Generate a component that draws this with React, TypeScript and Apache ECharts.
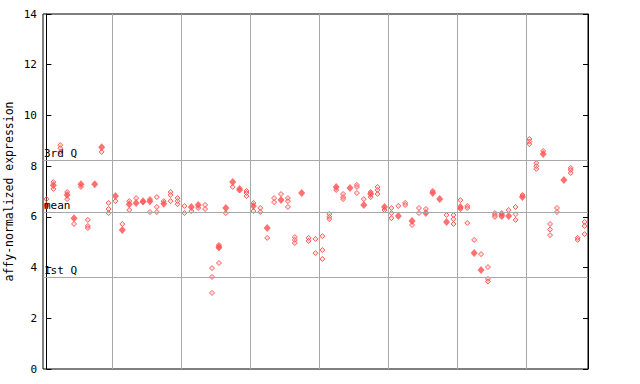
import React, { useEffect, useRef } from "react";
import * as echarts from "echarts";

// One entry per sample column (79 columns). filled: main (solid) point; hatched: hollow points.
const filledValues: (number | null)[] = [
  6.45, 7.25, null, 6.86, 5.95, 7.29, null, 7.29, 8.75, null,
  6.82, 5.48, 6.5, 6.55, 6.62, 6.62, null, 6.52, null, null,
  null, 6.39, 6.47, null, null, 4.81, 6.35, 7.37, 7.1, null,
  6.43, null, 5.56, null, 6.66, null, null, 6.94, null, null,
  null, null, 7.18, null, 7.14, null, 6.47, 6.9, null, 6.39,
  null, 6.03, null, 5.84, null, 6.15, 6.94, 6.7, 5.8, null,
  6.39, null, 4.57, 3.9, null, null, 6.07, 6.03, null, 6.78,
  null, null, 8.48, null, null, 7.45, null, null, null,
];

const hatchedValues: number[][] = [
  [6.7], [7.37, 7.1], [8.83, 8.71, 8.56], [6.98, 6.7], [5.72], [7.18], [5.88, 5.64, 5.56], [], [8.56], [6.55, 6.31, 6.15],
  [6.62], [5.72], [6.62, 6.27], [6.74], [6.58], [6.7, 6.19], [6.78, 6.39, 6.19], [6.62], [6.98, 6.86, 6.62], [6.74, 6.62, 6.5],
  [6.43, 6.15], [6.23], [6.35], [6.47, 6.31], [3.98, 3.63, 3.0], [4.89, 4.77, 4.18], [6.15], [7.18], [7.04], [7.02, 6.94, 6.82],
  [6.55, 6.23], [6.35, 6.19], [5.17], [6.74, 6.58], [6.9], [6.74, 6.62, 6.39], [5.2, 5.09, 4.97], [], [5.17, 5.05], [5.13, 4.57],
  [5.24, 4.69, 4.34], [6.11, 6.0, 5.91], [7.06], [6.9, 6.78, 6.7], [], [7.26, 7.18, 6.94], [6.7], [6.98, 6.78], [7.18, 7.06, 6.9], [6.27],
  [6.35, 6.15, 5.95], [6.43], [6.55, 6.47], [5.68], [6.35, 6.15], [6.31], [7.02], [], [6.07], [6.07, 5.91, 5.72],
  [6.66, 6.31], [6.43, 6.35, 5.76], [5.09], [4.53], [4.02, 3.55, 3.45], [6.15, 6.07, 6.0], [6.15, 6.0], [6.27], [6.39, 6.1, 5.88], [6.86],
  [9.07, 8.97, 8.87], [8.12, 8.0, 7.89], [8.6], [5.72, 5.5, 5.28], [6.35, 6.19], [], [7.93, 7.85, 7.73], [5.17, 5.09], [5.8, 5.64, 5.32],
];

const thirdQ = 8.24;
const meanVal = 6.2;
const firstQ = 3.62;
const groupBoundaries = [9.5, 19.5, 29.5, 39.5, 49.5, 59.5, 69.5];
const yTicks = [0, 2, 4, 6, 8, 10, 12, 14];

const RED = "#ff4d4d";
const GRID_GRAY = "#a8a8a8";
const MONO = "DejaVu Sans Mono";

export default function App() {
  const ref = useRef<HTMLDivElement>(null);

  useEffect(() => {
    if (!ref.current) return;
    const chart = echarts.init(ref.current, undefined, { renderer: "svg" });

    const filledData: number[][] = [];
    filledValues.forEach((v, i) => {
      if (v !== null) filledData.push([i, v]);
    });
    const hatchedData: number[][] = [];
    hatchedValues.forEach((vals, i) => {
      vals.forEach((v) => hatchedData.push([i, v]));
    });

    const hLineLabel = (text: string) => ({
      show: true,
      formatter: text,
      position: "insideStartTop" as const,
      distance: [1, 1],
      color: "#000",
      fontFamily: MONO,
      fontSize: 11,
    });

    chart.setOption({
      animation: false,
      grid: {
        left: 43,
        top: 14,
        width: 545,
        height: 355,
        containLabel: false,
        outerBoundsMode: "none",
        show: true,
        borderColor: "#000",
        borderWidth: 1,
        backgroundColor: "transparent",
      },
      xAxis: {
        type: "value",
        min: -0.5,
        max: 78.5,
        axisLine: { show: false },
        axisTick: { show: false },
        axisLabel: { show: false },
        splitLine: { show: false },
      },
      yAxis: [
        {
          type: "value",
          min: 0,
          max: 14,
          interval: 2,
          name: "affy-normalized expression",
          nameLocation: "middle",
          nameGap: 28,
          nameMoveOverlap: false,
          nameTextStyle: { fontFamily: MONO, fontSize: 11.5, color: "#000" },
          axisLine: { show: true, lineStyle: { color: "#000" } },
          axisTick: { show: true, inside: true, length: 5, lineStyle: { color: "#000" } },
          axisLabel: {
            fontFamily: MONO,
            fontSize: 11,
            color: "#000",
            margin: 6,
            formatter: (v: number) => (yTicks.includes(v) ? String(v) : ""),
          },
          splitLine: { show: false },
        },
        {
          type: "value",
          min: 0,
          max: 14,
          interval: 2,
          position: "right",
          axisLine: { show: true, lineStyle: { color: "#000" } },
          axisTick: { show: true, inside: true, length: 5, lineStyle: { color: "#000" } },
          axisLabel: { show: false },
          splitLine: { show: false },
        },
      ],
      series: [
        {
          type: "scatter",
          name: "lines",
          data: [],
          silent: true,
          markLine: {
            silent: true,
            symbol: "none",
            animation: false,
            lineStyle: { color: GRID_GRAY, type: "solid", width: 1 },
            data: [
              ...groupBoundaries.map((x) => ({ xAxis: x, label: { show: false } })),
              { yAxis: thirdQ, label: hLineLabel("3rd Q") },
              { yAxis: meanVal, label: hLineLabel("mean") },
              { yAxis: firstQ, label: hLineLabel("1st Q") },
            ],
          },
        },
        {
          type: "scatter",
          name: "hatched",
          data: hatchedData,
          symbol: "diamond",
          symbolSize: 5,
          itemStyle: {
            color: "rgba(255,160,160,0.35)",
            borderColor: RED,
            borderWidth: 1,
            opacity: 0.9,
          },
        },
        {
          type: "scatter",
          name: "filled",
          data: filledData,
          symbol: "diamond",
          symbolSize: [7, 8],
          itemStyle: { color: RED },
        },
      ],
    });

    return () => chart.dispose();
  }, []);

  return (
    <div
      ref={ref}
      style={{ position: "absolute", left: 0, top: 0, width: 640, height: 384 }}
    />
  );
}
